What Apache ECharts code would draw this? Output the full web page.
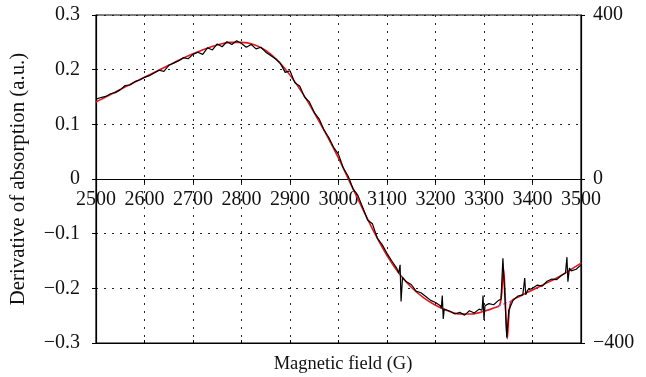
<!DOCTYPE html>
<html><head><meta charset="utf-8">
<script src="https://cdn.jsdelivr.net/npm/echarts@6/dist/echarts.min.js"></script>
<style>html,body{margin:0;padding:0;background:#fff}#c{width:646px;height:377px}</style>
</head><body><div id="c"></div>
<script>
// Measured signal (black)
const fieldMeas = [2500,2510,2520,2530,2540,2550,2560,2570,2580,2590,2600,2610,2620,2630,2640,2650,2660,2670,2680,2690,2700,2710,2720,2730,2740,2750,2760,2770,2780,2790,2800,2810,2820,2830,2840,2850,2860,2870,2880,2890,2900,2910,2920,2930,2940,2950,2960,2970,2980,2990,3000,3010,3020,3030,3040,3050,3060,3070,3080,3090,3100,3110,3120,3124,3127,3129,3132,3140,3150,3160,3170,3180,3190,3200,3210,3212,3214,3216,3218,3230,3240,3250,3260,3270,3280,3290,3296,3298,3300,3302,3310,3320,3330,3335,3339,3343,3347,3351,3360,3370,3380,3384,3386,3390,3400,3410,3420,3430,3440,3450,3460,3468,3471,3473,3476,3480,3490,3500];
const signalMeas = [0.146,0.149,0.151,0.156,0.158,0.163,0.171,0.172,0.178,0.181,0.186,0.189,0.194,0.199,0.197,0.208,0.212,0.216,0.222,0.220,0.228,0.232,0.228,0.240,0.236,0.247,0.242,0.251,0.246,0.253,0.248,0.241,0.246,0.238,0.241,0.232,0.226,0.220,0.212,0.195,0.198,0.176,0.170,0.150,0.141,0.122,0.110,0.090,0.076,0.058,0.045,0.020,0.005,-0.018,-0.030,-0.052,-0.075,-0.082,-0.108,-0.120,-0.136,-0.150,-0.163,-0.172,-0.157,-0.224,-0.180,-0.188,-0.193,-0.205,-0.208,-0.215,-0.222,-0.226,-0.232,-0.236,-0.213,-0.256,-0.238,-0.242,-0.247,-0.244,-0.249,-0.241,-0.245,-0.238,-0.240,-0.213,-0.258,-0.232,-0.228,-0.230,-0.222,-0.220,-0.145,-0.215,-0.290,-0.240,-0.222,-0.214,-0.212,-0.181,-0.212,-0.203,-0.200,-0.194,-0.196,-0.187,-0.183,-0.184,-0.176,-0.172,-0.143,-0.188,-0.163,-0.168,-0.165,-0.157];
// Fit (red)
const fieldFit = [2500,2525,2550,2575,2600,2625,2650,2675,2700,2725,2750,2775,2800,2825,2850,2875,2900,2925,2950,2975,3000,3025,3050,3075,3100,3125,3150,3175,3200,3225,3250,3275,3300,3320,3332,3337,3340,3343,3346,3348,3351,3356,3375,3400,3425,3450,3475,3500];
const signalFit = [0.141,0.152,0.164,0.175,0.186,0.197,0.208,0.219,0.229,0.238,0.245,0.250,0.250,0.246,0.235,0.216,0.190,0.158,0.121,0.081,0.038,-0.009,-0.055,-0.100,-0.140,-0.173,-0.198,-0.217,-0.231,-0.241,-0.247,-0.247,-0.242,-0.236,-0.231,-0.205,-0.163,-0.200,-0.270,-0.292,-0.255,-0.224,-0.214,-0.203,-0.192,-0.181,-0.168,-0.154];
// Baseline under the narrow line (blue dashed)
const fieldBase = [3328,3362];
const signalBase = [-0.233,-0.221];
const leftTicks = [-0.3,0.3,0.1];
const rightTicks = [-400,400,400];
const xTicks = [2500,3500,100];

const pair = (xs, ys) => xs.map((x, i) => [x, ys[i]]);
const fmt = v => { const r = Math.round(v*10)/10; return (r < 0 ? '\u2212' : '') + String(Math.abs(r)); };
const font = 'Liberation Serif';
const chart = echarts.init(document.getElementById('c'));
chart.setOption({
  animation: false,
  title: {text: 'Magnetic field (G)', left: 338, top: 350, textAlign: 'center',
    textStyle: {color: '#111', fontFamily: font, fontSize: 18.5, fontWeight: 'normal'}},
  grid: {left: 96, right: 65, top: 15, bottom: 34, show: true, borderColor: '#000', borderWidth: 1.2},
  xAxis: [{
    type: 'value', min: xTicks[0], max: xTicks[1], interval: xTicks[2], position: 'bottom', offset: -164,
    axisLine: {onZero: false, lineStyle: {color: '#000', width: 1.2}},
    axisTick: {show: true, length: 4, lineStyle: {color: '#000'}},
    axisLabel: {color: '#111', fontFamily: font, fontSize: 20, margin: 11, formatter: v => String(v)},
    splitLine: {show: true, lineStyle: {color: '#222', type: [2, 6], width: 1}}
  }, {
    type: 'value', min: xTicks[0], max: xTicks[1], interval: xTicks[2], position: 'bottom', offset: 0,
    axisLine: {onZero: false, lineStyle: {color: '#000', width: 1.2}},
    axisTick: {show: true, inside: true, length: 3, lineStyle: {color: '#000'}},
    axisLabel: {show: false}, splitLine: {show: false}
  }],
  yAxis: [{
    type: 'value', min: leftTicks[0], max: leftTicks[1], interval: leftTicks[2], position: 'left',
    axisLine: {show: true, onZero: false, lineStyle: {color: '#000', width: 1.2}},
    axisTick: {show: true, length: 4, lineStyle: {color: '#000'}},
    axisLabel: {color: '#111', fontFamily: font, fontSize: 20, margin: 16, formatter: fmt},
    splitLine: {show: true, lineStyle: {color: '#222', type: [2, 6], width: 1}},
    name: 'Derivative of absorption (a.u.)', nameLocation: 'middle', nameGap: 67,
    nameTextStyle: {color: '#111', fontFamily: font, fontSize: 20.8}
  }, {
    type: 'value', min: rightTicks[0], max: rightTicks[1], interval: rightTicks[2], position: 'right',
    axisLine: {show: true, onZero: false, lineStyle: {color: '#000', width: 1.2}},
    axisTick: {show: true, length: 4, lineStyle: {color: '#000'}},
    axisLabel: {color: '#111', fontFamily: font, fontSize: 20, margin: 12, formatter: v => (v < 0 ? '\u2212' : '') + Math.abs(v)},
    splitLine: {show: false}
  }],
  series: [
    {type: 'line', data: pair(fieldFit, signalFit), symbol: 'none', smooth: 0.3, lineStyle: {color: '#e5161d', width: 1.6}, z: 2},
    {type: 'line', data: pair(fieldBase, signalBase), symbol: 'none', lineStyle: {color: '#6a6ad8', width: 1, type: 'dashed'}, z: 2},
    {type: 'line', data: pair(fieldMeas, signalMeas), symbol: 'none', lineStyle: {color: '#000', width: 1.2}, z: 3}
  ]
});
</script></body></html>
